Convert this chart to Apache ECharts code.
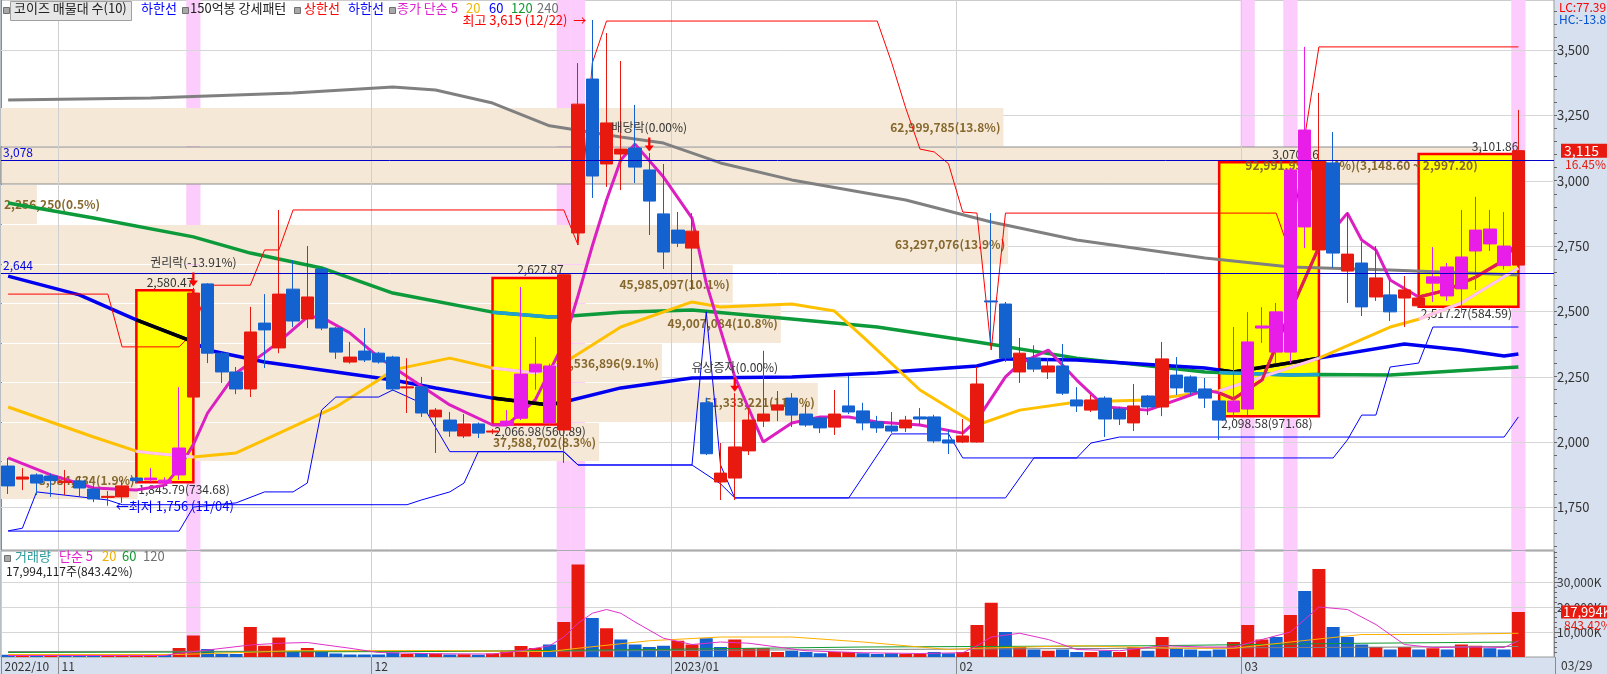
<!DOCTYPE html>
<html><head><meta charset="utf-8">
<script src="https://cdn.jsdelivr.net/npm/echarts@6/dist/echarts.min.js"></script>
<style>html,body{margin:0;padding:0;background:#fff}#c{width:1607px;height:674px}</style>
</head><body><div id="c"></div>
<script>
// ---------------- DATA ----------------
const dates = ['2022/10/26','2022/10/27','2022/10/28','2022/10/31',
'2022/11/01','2022/11/02','2022/11/03','2022/11/04','2022/11/07','2022/11/08','2022/11/09','2022/11/10','2022/11/11','2022/11/14','2022/11/15','2022/11/16','2022/11/17','2022/11/18','2022/11/21','2022/11/22','2022/11/23','2022/11/24','2022/11/25','2022/11/28','2022/11/29','2022/11/30',
'2022/12/01','2022/12/02','2022/12/05','2022/12/06','2022/12/07','2022/12/08','2022/12/09','2022/12/12','2022/12/13','2022/12/14','2022/12/15','2022/12/16','2022/12/19','2022/12/20','2022/12/21','2022/12/22','2022/12/23','2022/12/26','2022/12/27','2022/12/28','2022/12/29',
'2023/01/02','2023/01/03','2023/01/04','2023/01/05','2023/01/06','2023/01/09','2023/01/10','2023/01/11','2023/01/12','2023/01/13','2023/01/16','2023/01/17','2023/01/18','2023/01/19','2023/01/20','2023/01/25','2023/01/26','2023/01/27','2023/01/30','2023/01/31',
'2023/02/01','2023/02/02','2023/02/03','2023/02/06','2023/02/07','2023/02/08','2023/02/09','2023/02/10','2023/02/13','2023/02/14','2023/02/15','2023/02/16','2023/02/17','2023/02/20','2023/02/21','2023/02/22','2023/02/23','2023/02/24','2023/02/27','2023/02/28',
'2023/03/02','2023/03/03','2023/03/06','2023/03/07','2023/03/08','2023/03/09','2023/03/10','2023/03/13','2023/03/14','2023/03/15','2023/03/16','2023/03/17','2023/03/20','2023/03/21','2023/03/22','2023/03/23','2023/03/24','2023/03/27','2023/03/28','2023/03/29'];

// [open, close, low, high]
const ohlc = [
[1908,1832,1801,1939],[1858,1866,1816,1900],[1874,1843,1797,1880],[1870,1852,1790,1880],[1845,1850,1797,1893],
[1851,1824,1790,1870],[1820,1782,1770,1835],[1788,1792,1756,1812],[1790,1832,1767,1855],[1862,1852,1845,1866],
[1855,1862,1848,1900],[1854,1843,1840,1865],[1874,1977,1855,2210],[2172,2570,2165,2590],[2605,2340,2302,2608],
[2340,2268,2226,2345],[2268,2203,2183,2287],[2203,2421,2172,2517],[2455,2429,2283,2566],[2360,2566,2340,2888],
[2585,2463,2440,2696],[2471,2555,2436,2750],[2662,2436,2428,2670],[2436,2344,2318,2440],[2306,2325,2300,2383],
[2348,2314,2306,2436],[2340,2306,2300,2345],[2325,2203,2195,2330],[2207,2211,2111,2321],[2211,2111,2096,2249],
[2096,2122,1958,2130],[2084,2042,2020,2115],[2023,2069,2015,2107],[2069,2034,2015,2075],[2038,2042,2030,2050],
[2065,2080,2060,2122],[2091,2260,2084,2593],[2268,2298,2200,2402],[2291,2073,2065,2300],[2046,2640,1920,2645],
[2800,3293,2754,3450],[3389,3018,2934,3615],[3064,3221,2976,3565],[3102,3121,2964,3458],[3125,3052,2991,3290],
[3041,2922,2792,3106],[2873,2727,2662,3064],[2811,2761,2746,2880],[2742,2807,2582,2876],[2150,1955,1950,2170],
[1847,1881,1778,1996],[1862,1981,1778,2187],[1966,2084,1950,2130],[2080,2107,2057,2349],[2122,2142,2080,2195],
[2168,2103,2057,2187],[2107,2065,2058,2145],[2092,2054,2034,2096],[2057,2107,2027,2199],[2138,2115,2107,2253],
[2119,2073,2045,2150],[2077,2054,2035,2100],[2061,2042,2035,2115],[2054,2084,2038,2100],[2096,2088,2065,2130],
[2096,2004,1996,2104],[2008,1996,1954,2046],[2000,2023,1996,2088],[2000,2222,1998,2287],[2540,2536,2379,2876],
[2528,2321,2306,2536],[2268,2340,2226,2398],[2321,2279,2268,2370],[2268,2291,2241,2321],[2291,2187,2180,2375],
[2161,2138,2115,2210],[2122,2161,2115,2180],[2168,2088,2019,2175],[2126,2088,2065,2135],[2073,2138,2042,2222],
[2176,2134,2103,2180],[2134,2318,2099,2383],[2256,2207,2180,2325],[2249,2191,2180,2255],[2203,2168,2130,2245],
[2157,2084,2008,2160],[2115,2157,2084,2440],[2126,2383,2103,2497],[2436,2444,2379,2516],[2498,2344,2302,2532],
[2344,3041,2302,3050],[3194,2823,2742,3512],[2735,3075,2730,3336],[3068,2723,2666,3186],[2654,2719,2532,2880],
[2685,2517,2482,2765],[2555,2628,2540,2750],[2563,2498,2463,2620],[2551,2582,2440,2635],[2521,2551,2515,2560],
[2608,2632,2536,2746],[2670,2559,2540,2685],[2586,2708,2494,2888],[2731,2811,2582,2938],[2815,2758,2731,2888],
[2750,2675,2660,2880],[2677,3115,2670,3271]];

// volume, thousand shares
const volumes = [900,700,800,700,600,800,900,1000,1200,600,700,900,
3600,8600,3200,1200,1200,12000,4500,7800,2000,3600,2200,1400,1000,1000,
1000,1800,1200,1600,1400,1000,1100,900,1400,2400,4400,3600,5000,14000,
37000,15600,11500,7000,5000,4000,4500,6500,5000,7500,4000,7000,3500,3500,2000,2500,2000,1500,2000,2000,1500,1200,1500,1200,1200,2000,1500,
2000,12800,21700,10000,4000,3000,2500,3000,2000,2000,2500,2000,4000,2500,8000,3500,3000,2500,3000,
6000,12800,7000,8000,16800,26400,35200,12000,8000,5000,4000,3000,4000,3000,3500,3000,5000,4500,3500,3000,17994];

// moving averages: [index, value]
const ma5 = [[0,1939],[3,1874],[6,1824],[9,1816],[11,1835],[12,1900],[13,1990],[14,2111],[16,2264],[18,2341],[19,2383],[21,2478],[22,2478],[24,2417],[26,2325],[27,2287],[31,2142],[34,2065],[35,2065],[37,2161],[39,2379],[40,2560],[41,2750],[42,2926],[43,3079],[44,3140],[46,3014],[48,2857],[49,2608],[51,2250],[53,2000],[55,2073],[57,2096],[59,2096],[61,2077],[64,2065],[67,2034],[68,2084],[70,2249],[71,2300],[73,2352],[75,2237],[77,2134],[80,2122],[84,2199],[85,2188],[86,2165],[88,2237],[90,2500],[92,2746],[94,2876],[95,2773],[96,2735],[97,2620],[99,2555],[101,2582],[103,2631],[105,2696],[106,2773]];
const ma20 = [[0,2134],[6,2019],[9,1965],[10,1958],[13,1943],[16,1958],[18,2008],[23,2134],[26,2237],[27,2276],[31,2321],[34,2283],[37,2264],[39,2302],[43,2440],[48,2536],[50,2517],[55,2528],[58,2501],[60,2402],[64,2199],[68,2065],[71,2122],[75,2153],[80,2161],[84,2191],[85,2195],[92,2321],[97,2440],[99,2470],[102,2532],[106,2666]];
const ma60 = [[0,2635],[5,2563],[9,2467],[13,2383],[14,2352],[18,2306],[23,2268],[27,2237],[30,2207],[34,2168],[38,2142],[39,2153],[43,2207],[48,2245],[55,2249],[61,2264],[68,2291],[70,2318],[75,2314],[84,2283],[85,2276],[86,2268],[92,2321],[98,2375],[102,2352],[105,2329],[106,2337]];
const ma120 = [[0,2915],[6,2857],[13,2785],[17,2723],[22,2666],[27,2570],[34,2497],[38,2478],[39,2480],[43,2497],[48,2505],[55,2471],[61,2440],[68,2383],[75,2321],[84,2268],[85,2266],[90,2256],[92,2258],[97,2256],[106,2287]];
const ma240 = [[0,3309],[10,3316],[20,3336],[27,3359],[30,3347],[34,3297],[38,3210],[43,3167],[46,3144],[50,3068],[55,3003],[63,2926],[69,2842],[75,2773],[84,2704],[90,2670],[97,2658],[106,2639]];

// channel lines
const upperLine = [[0,2566],[7,2566],[8,2364],[12,2364],[13,2420],[14,2600],[17,2600],[18,2735],[19,2735],[20,2888],[39,2888],[40,2754],[41,3450],[42,3611],[61,3611],[62,3454],[63,3278],[64,3121],[65,3110],[66,3065],[67,2880],[68,2876],[69,2352],[70,2876],[89,2876],[90,2720],[91,3167],[92,3512],[106,3512]];
const lowerLine = [[0,1659],[12,1659],[13,1751],[16,1767],[18,1809],[20,1809],[21,1843],[22,2122],[23,2172],[26,2172],[27,2199],[29,2149],[31,1963],[39,1963],[40,1912],[48,1912],[49,2498],[50,1912],[51,1786],[70,1786],[72,1939],[93,1939],[94,2008],[95,2103],[96,2103],[97,2287],[99,2302],[100,2440],[106,2440]];
const supportLine = [[0,1660],[1,1670],[2,1809],[7,1778],[8,1760],[28,1760],[29,1778],[31,1809],[32,1843],[33,1963],[39,1963],[40,1912],[48,1912],[50,1840],[51,1786],[59,1786],[62,2031],[66,2031],[67,1939],[75,1939],[76,1996],[78,2019],[105,2019],[106,2096]];

// volume moving averages (K)
const volMa5 = [[0,600],[11,600],[12,1500],[14,2800],[17,4800],[19,5500],[21,5800],[24,3500],[26,1800],[30,1300],[34,1200],[36,2500],[38,4500],[39,8000],[40,13500],[41,17500],[42,19000],[43,17500],[44,14000],[46,7500],[48,5000],[50,6000],[52,5500],[54,4000],[56,2500],[60,1700],[64,1400],[67,1700],[68,4500],[69,8000],[71,9500],[73,7000],[75,3000],[78,2500],[81,4500],[84,4000],[86,4000],[88,7000],[90,10000],[91,15000],[92,20000],[94,19000],[96,13000],[98,5000],[100,3800],[103,4000],[105,3800],[106,6500]];
const volMa20 = [[0,1000],[12,1000],[20,2500],[30,2600],[38,2200],[40,3500],[45,6500],[50,8000],[55,8000],[60,6000],[66,3000],[68,3500],[75,4500],[82,3500],[86,3500],[90,6000],[95,9000],[100,9000],[106,9500]];
const volMa60 = [[0,1800],[30,2200],[45,3000],[60,4000],[80,4500],[95,5500],[106,6000]];
const volMa120 = [[0,2200],[40,2400],[60,3000],[80,3500],[106,4200]];

// volume profile bands (top to bottom)
const bandHigh = [3282,3133,2986,2836,2683,2532,2380,2230,2078,1926];
const bandLow  = [3133,2986,2836,2683,2532,2380,2230,2078,1926,1782];
const bandVol  = [62999785,92991952,2256250,63297076,45985097,49007084,41536896,51333221,37588702,8584634];
const bandPct  = [13.8,20.4,0.5,13.9,10.1,10.8,9.1,11.3,8.3,1.9];
const peakBandRange = [3148.60, 2997.20];

// pattern boxes
const boxStart = [9,34,85,99];
const boxEnd   = [13,39,92,106];
const boxLow   = [1845.79,2066.98,2098.58,2517.27];
const boxHigh  = [2580.47,2627.87,3070.26,3101.86];

const eventIdx = [13,39,40,87,90,106];
const priceTicks = [1750,2000,2250,2500,2750,3000,3250,3500];
const volTicks = [10000,20000,30000];
const monthStartIdx = [0,4,26,47,67,87];
const monthLabels = ['2022/10','11','12','2023/01','02','03'];
const refLines = [3078,2644];
const lastClose = 3115, lastChangePct = 16.45, lastVolume = 17994117, lastVolPct = 843.42;
const highMark = {idx:41, value:3615, label:'12/22'};
const lowMark = {idx:7, value:1756, label:'11/04'};
const corpEvents = [{idx:13, value:2590, text:'권리락(-13.91%)'},{idx:45, value:3106, text:'배당락(0.00%)'},{idx:51, value:2187, text:'유상증자(0.00%)'}];

// ---------------- CHART ----------------
const RED='#e8190f', BLUE='#1461d0', MAG='#e81ee8', DKG='#0f5a37';
const FONT='"Noto Sans CJK KR", "Noto Sans", sans-serif';
const cats = dates.concat(['', ' ']);
const fmt = v => Math.round(v).toLocaleString('en-US');
const fmt2 = v => v.toLocaleString('en-US',{minimumFractionDigits:2, maximumFractionDigits:2});
const P_MIN = 1586.7, P_MAX = 3691.5, V_MAX = 42400;
const minorP = []; for (let v = 1600; v <= 3650; v += 50) minorP.push(v);
const minorV = []; for (let v = 2000; v <= 42000; v += 2000) minorV.push(v);

function inBox(i){ for (let k=0;k<boxStart.length;k++){ if (i>boxStart[k] && i<boxEnd[k]) return true; } return false; }

const candleData = ohlc.map((d,i)=>{
  const it = {value:[d[0],d[1],d[2],d[3]]};
  if (inBox(i)) it.itemStyle = {color:MAG, color0:DKG, borderColor:MAG, borderColor0:DKG};
  return it;
});
const volData = volumes.map((v,i)=>{
  const up = i === 0 ? ohlc[i][1] >= ohlc[i][0] : ohlc[i][1] >= ohlc[i-1][1];
  return {value:v, itemStyle:{color: up?RED:BLUE}};
});

function pinkItem(params, api){
  const cs = params.coordSys;
  const c = api.coord([api.value(0), api.value(1)]);
  const w = api.size([1,0])[0];
  return {type:'rect', shape:{x:c[0]-w/2, y:cs.y, width:w, height:cs.height}, style:{fill:'#fccdfc'}};
}
function hLineItem(params, api){
  const cs = params.coordSys;
  const y = Math.round(api.coord([0, api.value(1)])[1]) + 0.5;
  return {type:'line', shape:{x1:cs.x, y1:y, x2:cs.x+cs.width, y2:y}, style:{stroke:'#d6d6d6', lineWidth:1}};
}
function vLineItem(params, api){
  const cs = params.coordSys;
  const c = api.coord([api.value(0), api.value(1)]);
  const w = api.size([1,0])[0];
  const x = Math.round(c[0]-w/2) + 0.5;
  return {type:'line', shape:{x1:x, y1:cs.y, x2:x, y2:cs.y+cs.height}, style:{stroke:'#d0d0d0', lineWidth:1}};
}
function bandGeom(params, api){
  const i = params.dataIndex;
  const cs = params.coordSys;
  const p0 = api.coord([0, bandHigh[i]]);
  const p1 = api.coord([bandVol[i], bandLow[i]]);
  return {i:i, x0:cs.x, x1:p1[0], y0:Math.round(p0[1])+1, y1:Math.round(p1[1]), isPeak: bandVol[i] === Math.max.apply(null, bandVol)};
}
function bandItem(params, api){
  const g = bandGeom(params, api);
  return {type:'rect', shape:{x:g.x0, y:g.y0, width:g.x1-g.x0, height:g.y1-g.y0}, style:{fill:'#f5e8d6', stroke: g.isPeak?'#8c8c8c':null, lineWidth:1}};
}
function bandLabelItem(params, api){
  const g = bandGeom(params, api);
  let txt = fmt(bandVol[g.i]) + '(' + bandPct[g.i].toFixed(1) + '%)';
  if (g.isPeak) txt += '(' + fmt2(peakBandRange[0]) + ' ~ ' + fmt2(peakBandRange[1]) + ')';
  const narrow = (g.x1 - g.x0) < 80;
  return {type:'text', style:{text:txt, x: narrow ? g.x0+3 : g.x1-3, y:(g.y0+g.y1)/2, textAlign: narrow?'left':'right', textVerticalAlign:'middle', fill:'#86682e', font:'bold 12px '+FONT}};
}
function boxItem(params, api){
  const i = params.dataIndex;
  const a = api.coord([boxStart[i], boxHigh[i]]);
  const b = api.coord([boxEnd[i], boxLow[i]]);
  return {type:'group', children:[
    {type:'rect', shape:{x:a[0], y:a[1], width:b[0]-a[0], height:b[1]-a[1]}, style:{fill:'#ffff00', stroke:'#ff0000', lineWidth:2.5, blend:'multiply'}},
    {type:'text', style:{text:fmt2(boxHigh[i]), x:b[0], y:a[1]-2, textAlign:'right', textVerticalAlign:'bottom', fill:'#333', font:'12px '+FONT}},
    {type:'text', style:{text:fmt2(boxLow[i])+'('+fmt2(boxHigh[i]-boxLow[i])+')', x:a[0]+2, y:b[1]+1, textAlign:'left', textVerticalAlign:'top', fill:'#333', font:'12px '+FONT}}
  ]};
}
function monthLabelItem(params, api){
  const cs = params.coordSys;
  const c = api.coord([api.value(0), 0]);
  const w = api.size([1,0])[0];
  const x = Math.max(Math.round(c[0]-w/2), 0) + 0.5;
  const yb = cs.y + cs.height;
  return {type:'group', children:[
    {type:'line', shape:{x1:x, y1:yb, x2:x, y2:yb+17}, style:{stroke:'#8a8a8a', lineWidth:1}},
    {type:'text', style:{text:monthLabels[params.dataIndex], x:x+3, y:yb+9, textVerticalAlign:'middle', fill:'#333', font:'12px '+FONT}}
  ]};
}

const series = [];
function add(s){ series.push(s); return series.length-1; }
const noAnim = {animation:false, silent:true};

// main panel backgrounds
add(Object.assign({type:'custom', xAxisIndex:0, yAxisIndex:0, z:1, renderItem:pinkItem, data:eventIdx.map(i=>[i,2000])}, noAnim));
add(Object.assign({type:'custom', xAxisIndex:0, yAxisIndex:0, z:2, renderItem:hLineItem, data:priceTicks.map(v=>[0,v])}, noAnim));
add(Object.assign({type:'custom', xAxisIndex:1, yAxisIndex:0, z:3, renderItem:bandItem, data:bandVol.map((v,i)=>[v, bandLow[i]])}, noAnim));
add(Object.assign({type:'custom', xAxisIndex:0, yAxisIndex:0, z:4, renderItem:vLineItem, data:monthStartIdx.slice(1).map(i=>[i,2000])}, noAnim));
add(Object.assign({type:'custom', xAxisIndex:0, yAxisIndex:0, z:5, renderItem:boxItem, data:boxStart.map((s,i)=>[s, boxLow[i], boxEnd[i], boxHigh[i]])}, noAnim));
add(Object.assign({type:'custom', xAxisIndex:1, yAxisIndex:0, z:5.5, renderItem:bandLabelItem, data:bandVol.map((v,i)=>[v, bandLow[i]])}, noAnim));

function lineS(data, color, width, z){
  return Object.assign({type:'line', xAxisIndex:0, yAxisIndex:0, z:z||6, data:data, showSymbol:false, symbol:'none', lineStyle:{color:color, width:width}}, noAnim);
}
// parts of a moving average that fall inside the given pattern boxes, drawn in the box colour
function boxSegments(ma, boxes, color, width){
  boxes.forEach(k=>{
    add(lineS(ma.filter(p=>p[0]>=boxStart[k] && p[0]<=boxEnd[k]), color, width, 6.5));
  });
}
add(lineS(ma240,'#808080',3));
add(lineS(ma120,'#0c9a3a',3.5));
add(lineS(ma60,'#0000f0',3.5));
add(lineS(ma20,'#ffc000',3));
add(lineS(ma5,'#dc1fc0',3));
boxSegments(ma60,[0,1,2],'#000000',3.5);
boxSegments(ma120,[1,2],'#22a0d0',3.5);
boxSegments(ma20,[0,1,2,3],'#ffc4f2',3);
boxSegments(ma5,[2,3],'#e0204a',3);
add(lineS(upperLine,'#ff0000',1));
add(lineS(lowerLine,'#0000ff',1));
add(lineS(supportLine,'#0000ff',1));

const arrowPath = 'path://M3,0 L5,0 L5,8 L8,8 L4,14 L0,8 L3,8 Z';
add({type:'candlestick', xAxisIndex:0, yAxisIndex:0, z:7, animation:false, silent:true, barWidth:13,
  data:candleData,
  itemStyle:{color:RED, color0:BLUE, borderColor:RED, borderColor0:BLUE, borderWidth:1},
  markLine:{silent:true, z:8, symbol:'none', animation:false, data:[
      ...refLines.map(v=>({yAxis:v, lineStyle:{color:'#0000c8', width:1, type:'solid'}, label:{show:true, position:'insideStartTop', distance:[2,2], formatter:fmt(v), color:'#0000e0', fontSize:12, fontFamily:FONT}})),
      {yAxis:lastClose, lineStyle:{color:'transparent', width:0}, label:{show:true, position:'end', distance:7,
        formatter:'{e|}\n{a|'+fmt(lastClose)+'}\n{b|'+lastChangePct.toFixed(2)+'%}',
        rich:{e:{height:12, lineHeight:12}, a:{backgroundColor:RED, color:'#fff', fontSize:14, lineHeight:15, padding:[0,8,0,3], fontFamily:FONT}, b:{color:RED, fontSize:12, lineHeight:12, padding:[0,0,0,4], fontFamily:FONT}}}}
  ]},
  markPoint:{silent:true, z:9, animation:false, data:[
      {coord:[cats[highMark.idx], highMark.value], symbol:'circle', symbolSize:0, label:{show:true, position:'left', distance:6, formatter:'최고 '+fmt(highMark.value)+' ('+highMark.label+')  →', color:'#ff0000', fontSize:13, fontFamily:FONT}},
      {coord:[cats[lowMark.idx], lowMark.value], symbol:'circle', symbolSize:0, label:{show:true, position:'right', distance:8, formatter:'←최저 '+fmt(lowMark.value)+' ('+lowMark.label+')', color:'#0000ff', fontSize:13, fontFamily:FONT}},
      ...corpEvents.map(e=>({coord:[cats[e.idx], e.value], symbol:arrowPath, symbolSize:[9,14], symbolOffset:[0,'-60%'], itemStyle:{color:'#ff0000'},
        label:{show:true, position:'top', distance:4, formatter:e.text, color:'#333', fontSize:12, fontFamily:FONT}}))
  ]}
});

// volume panel
add(Object.assign({type:'custom', xAxisIndex:2, yAxisIndex:2, z:1, renderItem:pinkItem, data:eventIdx.map(i=>[i,0])}, noAnim));
add(Object.assign({type:'custom', xAxisIndex:2, yAxisIndex:2, z:2, renderItem:hLineItem, data:volTicks.map(v=>[0,v])}, noAnim));
add(Object.assign({type:'custom', xAxisIndex:2, yAxisIndex:2, z:3, renderItem:vLineItem, data:monthStartIdx.slice(1).map(i=>[i,0])}, noAnim));
add(Object.assign({type:'custom', xAxisIndex:2, yAxisIndex:2, z:3, renderItem:monthLabelItem, data:monthStartIdx.map(i=>[i,0])}, noAnim));
add({type:'bar', xAxisIndex:2, yAxisIndex:2, z:4, animation:false, silent:true, barWidth:13, data:volData,
  markLine:{silent:true, z:8, symbol:'none', animation:false, data:[
    {yAxis:lastVolume/1000, lineStyle:{color:'transparent', width:0}, label:{show:true, position:'end', distance:7,
      formatter:'{e|}\n{a|'+fmt(lastVolume/1000)+'K}\n{b|'+fmt2(lastVolPct)+'%}',
      rich:{e:{height:12, lineHeight:12}, a:{backgroundColor:RED, color:'#fff', fontSize:13, lineHeight:14, padding:[0,2,0,2], fontFamily:FONT}, b:{color:RED, fontSize:12, lineHeight:12, padding:[0,0,0,3], fontFamily:FONT}}}}
  ]}
});
function vLine(data, color){ return Object.assign({type:'line', xAxisIndex:2, yAxisIndex:2, z:5, data:data, showSymbol:false, symbol:'none', lineStyle:{color:color, width:1}}, noAnim); }
add(vLine(volMa120,'#808080'));
add(vLine(volMa60,'#109a30'));
add(vLine(volMa20,'#ffb000'));
add(vLine(volMa5,'#e030c8'));

const legendTop = [
  {t:'코이즈 매물대 수(10)', x:14, c:'#222'}, {t:'하한선', x:141, c:'#0000ff'},
  {t:'150억봉 강세패턴', x:190, c:'#222'}, {t:'상한선', x:304, c:'#ff0000'}, {t:'하한선', x:348, c:'#0000ff'},
  {t:'종가 단순 5', x:397, c:'#e020d0'}, {t:'20', x:466, c:'#f0b800'}, {t:'60', x:489, c:'#0000ff'}, {t:'120', x:511, c:'#109a30'}, {t:'240', x:537, c:'#707070'}
];
const squares = [3, 182, 294, 389];

const graphic = [
  {type:'rect', left:10, top:1, shape:{width:121, height:19}, style:{fill:'#e6e6e6', stroke:'#a0a0a0'}, z:100},
  ...squares.map(x=>({type:'rect', left:x, top:7, shape:{width:6, height:6}, style:{fill:'#a8a8a8', stroke:'#707070'}, z:100})),
  ...legendTop.map(o=>({type:'text', left:o.x, top:2, style:{text:o.t, fill:o.c, font:'13px '+FONT}, z:101})),
  {type:'text', left:1559, top:1, style:{text:'LC:77.39', fill:'#ff0000', font:'12px '+FONT}, z:101},
  {type:'text', left:1559, top:13, style:{text:'HC:-13.8', fill:'#0050d0', font:'12px '+FONT}, z:101},
  {type:'rect', left:4, top:555, shape:{width:6, height:6}, style:{fill:'#a8a8a8', stroke:'#707070'}, z:100},
  {type:'text', left:15, top:550, style:{text:'거래량', fill:'#2a9a9a', font:'13px '+FONT}, z:101},
  {type:'text', left:59, top:550, style:{text:'단순 5', fill:'#e020d0', font:'13px '+FONT}, z:101},
  {type:'text', left:102, top:550, style:{text:'20', fill:'#f0b000', font:'13px '+FONT}, z:101},
  {type:'text', left:122, top:550, style:{text:'60', fill:'#109a30', font:'13px '+FONT}, z:101},
  {type:'text', left:143, top:550, style:{text:'120', fill:'#707070', font:'13px '+FONT}, z:101},
  {type:'text', left:6, top:565, style:{text:fmt(lastVolume)+'주('+fmt2(lastVolPct)+'%)', fill:'#222', font:'12px '+FONT}, z:101},
  {type:'line', shape:{x1:1555.5, y1:657, x2:1555.5, y2:674}, style:{stroke:'#8a8a8a'}, z:101},
  {type:'text', left:1561, top:659, style:{text:dates[dates.length-1].slice(5), fill:'#333', font:'12px '+FONT}, z:101}
];

const option = {
  animation:false,
  backgroundColor:'#d7e0ee',
  textStyle:{fontFamily:FONT},
  grid:[
    {left:1, right:53, top:0, height:550, show:true, backgroundColor:'#ffffff', borderColor:'#9a9a9a', borderWidth:1},
    {left:1, right:53, top:551, height:106, show:true, backgroundColor:'#ffffff', borderColor:'#9a9a9a', borderWidth:1}
  ],
  xAxis:[
    {type:'category', gridIndex:0, data:cats, boundaryGap:true, show:false},
    {type:'value', gridIndex:0, min:0, max:97600000, show:false},
    {type:'category', gridIndex:1, data:cats, boundaryGap:true, show:false}
  ],
  yAxis:[
    {type:'value', gridIndex:0, position:'right', min:P_MIN, max:P_MAX,
      axisLine:{show:true, lineStyle:{color:'#8a8a8a'}},
      axisTick:{show:true, length:6, customValues:priceTicks, lineStyle:{color:'#666'}},
      axisLabel:{show:true, customValues:priceTicks, color:'#333', fontSize:13, margin:3, formatter:v=>fmt(v)},
      splitLine:{show:false}},
    {type:'value', gridIndex:0, position:'right', min:P_MIN, max:P_MAX,
      axisLine:{show:false}, axisTick:{show:true, length:3, customValues:minorP, lineStyle:{color:'#666'}},
      axisLabel:{show:false}, splitLine:{show:false}},
    {type:'value', gridIndex:1, position:'right', min:0, max:V_MAX,
      axisLine:{show:true, lineStyle:{color:'#8a8a8a'}},
      axisTick:{show:true, length:6, customValues:volTicks, lineStyle:{color:'#666'}},
      axisLabel:{show:true, customValues:volTicks, color:'#333', fontSize:12, margin:3, formatter:v=>fmt(v)+'K'},
      splitLine:{show:false}},
    {type:'value', gridIndex:1, position:'right', min:0, max:V_MAX,
      axisLine:{show:false}, axisTick:{show:true, length:3, customValues:minorV, lineStyle:{color:'#666'}},
      axisLabel:{show:false}, splitLine:{show:false}}
  ],
  graphic:graphic,
  series:series
};
const chart = echarts.init(document.getElementById('c'), null, {renderer:'canvas'});
chart.setOption(option);
</script>
</body></html>
